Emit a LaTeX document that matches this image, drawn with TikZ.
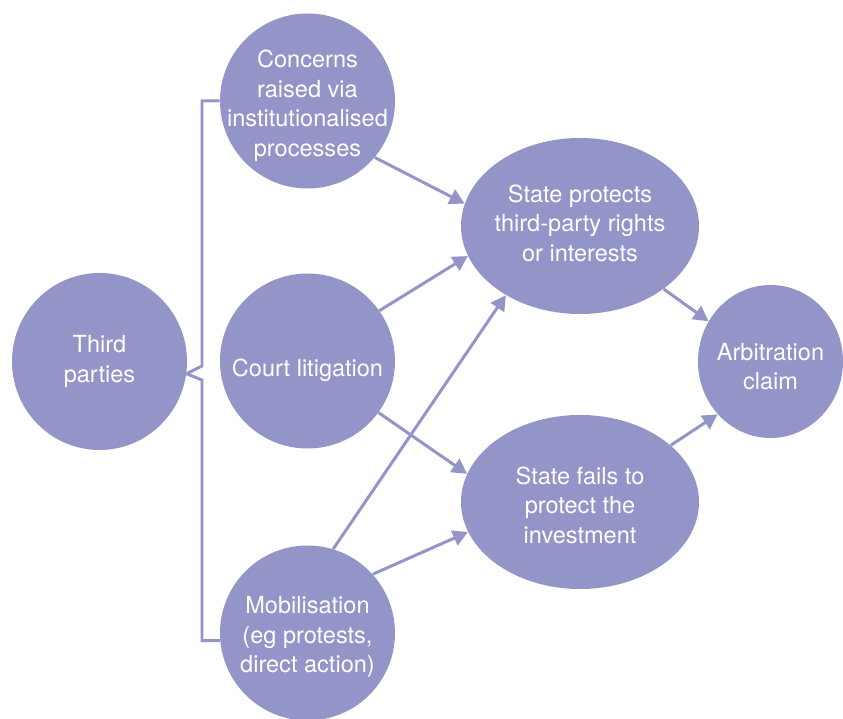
\documentclass[tikz,border=0pt]{standalone}
\usepackage{fontspec}
\setmainfont{TeX Gyre Heros}
\usetikzlibrary{positioning}
\usetikzlibrary{shapes.geometric}
\usetikzlibrary{arrows.meta}
\definecolor{lavender}{RGB}{147,148,200}

\begin{document}
\begin{tikzpicture}[
	bubble/.style = {ellipse, fill = lavender, inner sep = 0pt},
	words/.style = {text = white, align = center, font = \fontsize{13.4}{16.8}\selectfont},
	link/.style = {lavender, line width = 1.7pt, -{Triangle[length = 8.5pt, width = 9pt]}},
	bracket/.style = {lavender, line width = 1.7pt}
]
	\useasboundingbox (0, 0) rectangle (16.86, 14.38);
	\node[bubble, minimum width = 3.5cm, minimum height = 3.54cm, label = {[words]center:{Third\\parties}}] (third) at (1.99, 7.15) {};
	\node[bubble, minimum width = 3.5cm, minimum height = 3.5cm, label = {[words, yshift = -0.1cm]center:{Concerns\\raised via\\institutionalised\\processes}}] (concerns) at (6.15, 12.36) {};
	\node[bubble, minimum width = 3.5cm, minimum height = 3.5cm, label = {[words, yshift = -0.18cm]center:{Court litigation}}] (court) at (6.15, 7.16) {};
	\node[bubble, minimum width = 3.5cm, minimum height = 3.5cm, label = {[words, yshift = -0.08cm]center:{Mobilisation\\(eg protests,\\direct action)}}] (mobil) at (6.15, 1.72) {};
	\node[bubble, minimum width = 4.76cm, minimum height = 3.52cm, label = {[words, yshift = 0.06cm]center:{State protects\\third-party rights\\or interests}}] (protect) at (11.6, 9.86) {};
	\node[bubble, minimum width = 4.76cm, minimum height = 3.48cm, label = {[words, yshift = -0.06cm]center:{State fails to\\protect the\\investment}}] (fails) at (11.6, 4.34) {};
	\node[bubble, minimum width = 2.9cm, minimum height = 3.06cm, label = {[words, yshift = -0.1cm]center:{Arbitration\\claim}}] (arbit) at (15.41, 7.15) {};
	% bracket
	\draw[bracket] (concerns.west) -| (4.04, 7.06) -- (third.-8) -- (4.04, 6.78) |- (mobil.185);
	% arrows
	\draw[link] (concerns.-40) -- (protect.169);
	\draw[link] (court.35) -- (protect.-165);
	\draw[link] (court.-36) -- (fails.166);
	\draw[link] (mobil.73) -- (protect.-137);
	\draw[link] (mobil.42) -- (fails.-165);
	\draw[link] (protect.-37) -- (arbit.147);
	\draw[link] (fails.32) -- (arbit.-135);
\end{tikzpicture}
\end{document}
